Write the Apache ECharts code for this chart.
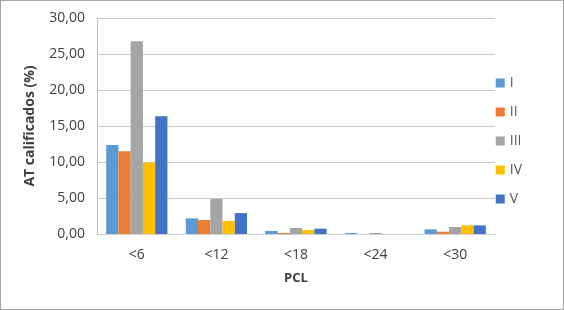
<!DOCTYPE html>
<html>
<head>
<meta charset="utf-8">
<script src="https://cdn.jsdelivr.net/npm/echarts@6/dist/echarts.min.js"></script>
<style>
  html, body { margin: 0; padding: 0; background: #fff; }
  #chart { width: 562px; height: 308px; border: 1px solid #a6a6a6; }
</style>
</head>
<body>
<div id="chart"></div>
<script>
const categories = ["<6", "<12", "<18", "<24", "<30"];
const seriesNames = ["I", "II", "III", "IV", "V"];
const valsI = [12.36, 2.17, 0.42, 0.14, 0.65];
const valsII = [11.5, 1.94, 0.14, 0, 0.32];
const valsIII = [26.76, 4.86, 0.83, 0.14, 0.97];
const valsIV = [9.9, 1.8, 0.55, 0, 1.2];
const valsV = [16.35, 2.9, 0.74, 0, 1.2];
const colors = ["#5b9bd5", "#ed7d31", "#a5a5a5", "#ffc000", "#4472c4"];

const chart = echarts.init(document.getElementById("chart"));
const allVals = [valsI, valsII, valsIII, valsIV, valsV];
const font = "Open Sans";

chart.setOption({
  animation: false,
  color: colors,
  grid: { left: 96, right: 68, top: 17, bottom: 75 },
  legend: {
    orient: "vertical",
    right: 36,
    top: 70,
    itemWidth: 9,
    itemHeight: 9,
    itemGap: 15,
    icon: "rect",
    textStyle: { fontFamily: font, fontSize: 14, color: "#595959" },
    data: seriesNames
  },
  xAxis: {
    type: "category",
    data: categories,
    name: "PCL",
    nameLocation: "middle",
    nameGap: 38,
    nameTextStyle: { fontFamily: font, fontWeight: "bold", fontSize: 13, color: "#404040" },
    axisLine: { lineStyle: { color: "#d0d0d0" } },
    axisTick: { show: false },
    axisLabel: { fontFamily: font, fontSize: 14, color: "#404040", margin: 14 }
  },
  yAxis: {
    type: "value",
    min: 0,
    max: 30,
    interval: 5,
    name: "AT calificados (%)",
    nameLocation: "middle",
    nameGap: 60,
    nameTextStyle: { fontFamily: font, fontWeight: "bold", fontSize: 14, color: "#404040" },
    axisLine: { show: true, lineStyle: { color: "#bfbfbf" } },
    axisTick: { show: false },
    splitLine: { lineStyle: { color: "#c8c8c8" } },
    axisLabel: {
      fontFamily: font, fontSize: 14, color: "#404040", margin: 12,
      formatter: v => v.toFixed(2).replace(".", ",")
    }
  },
  series: seriesNames.map((n, i) => ({
    name: n,
    type: "bar",
    data: allVals[i],
    barGap: "0%",
    barCategoryGap: "23%"
  }))
});
</script>
</body>
</html>
